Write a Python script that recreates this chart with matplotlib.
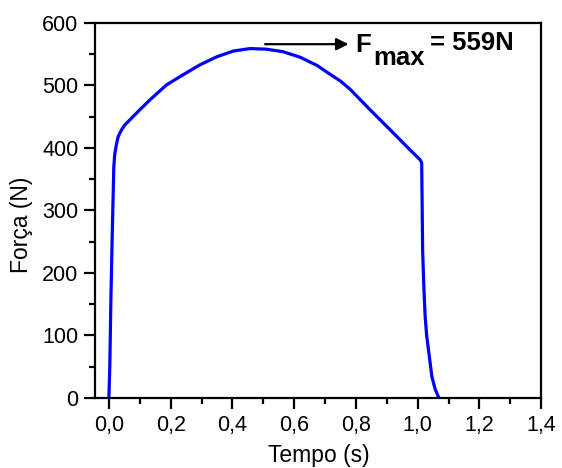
import matplotlib
matplotlib.use("Agg")
import matplotlib.pyplot as plt
from matplotlib.ticker import MultipleLocator, FuncFormatter

# curve: time (s), force (N)
tempo = [0.000, 0.003, 0.0065, 0.011, 0.016, 0.019, 0.025, 0.030, 0.041, 0.052,
         0.068, 0.100, 0.133, 0.187, 0.240, 0.295, 0.350, 0.403, 0.457, 0.510,
         0.564, 0.620, 0.674, 0.716, 0.750, 0.781, 0.846, 0.911, 0.975, 1.008,
         1.013, 1.016, 1.020, 1.024, 1.029, 1.035, 1.046, 1.056, 1.067]
forca = [0, 50, 157, 264, 370, 390, 407, 418, 429, 437,
         445, 461, 477, 501, 517, 533, 546, 555, 559, 558,
         554, 545, 532, 518, 507, 494, 461, 429, 397, 381,
         376, 237, 178, 132, 100, 77, 34, 15, 2]

x_ticks = [0.0, 0.2, 0.4, 0.6, 0.8, 1.0, 1.2, 1.4]
y_ticks = [0, 100, 200, 300, 400, 500, 600]

plt.rcParams['font.family'] = ['Liberation Sans', 'DejaVu Sans']

fig = plt.figure(figsize=(5.62, 4.68), dpi=100)
ax = fig.add_axes([0.169, 0.1496, 0.794, 0.8014])

ax.plot(tempo, forca, color='#0000ff', lw=2.3, solid_joinstyle='round')

ax.set_xlim(-0.045, 1.4)
ax.set_ylim(0, 600)
ax.set_xticks(x_ticks)
ax.set_yticks(y_ticks)
ax.xaxis.set_minor_locator(MultipleLocator(0.1))
ax.yaxis.set_minor_locator(MultipleLocator(50))
ax.xaxis.set_major_formatter(FuncFormatter(lambda v, p: ('%.1f' % v).replace('.', ',')))

for s in ax.spines.values():
    s.set_linewidth(1.6)
ax.tick_params(which='major', direction='out', length=8, width=1.6, labelsize=15.5, pad=4)
ax.tick_params(which='minor', direction='out', length=4, width=1.6)
ax.tick_params(top=False, right=False)

ax.set_xlabel('Tempo (s)', fontsize=16.5)
ax.set_ylabel('Força (N)', fontsize=16.5)
ax.xaxis.set_label_coords(0.501, -0.123)
ax.yaxis.set_label_coords(-0.139, 0.461)

# F_max annotation
ax.annotate('', xy=(0.785, 566), xytext=(0.497, 566),
            arrowprops=dict(arrowstyle='-|>', color='black', lw=1.6, mutation_scale=18))
ax.text(0.797, 554, 'F', fontsize=18.5, fontweight='bold')
ax.text(0.855, 533, 'max', fontsize=18.5, fontweight='bold')
ax.text(1.040, 556, '= 559N', fontsize=18.5, fontweight='bold')

fig.savefig('out.png', dpi=100)
